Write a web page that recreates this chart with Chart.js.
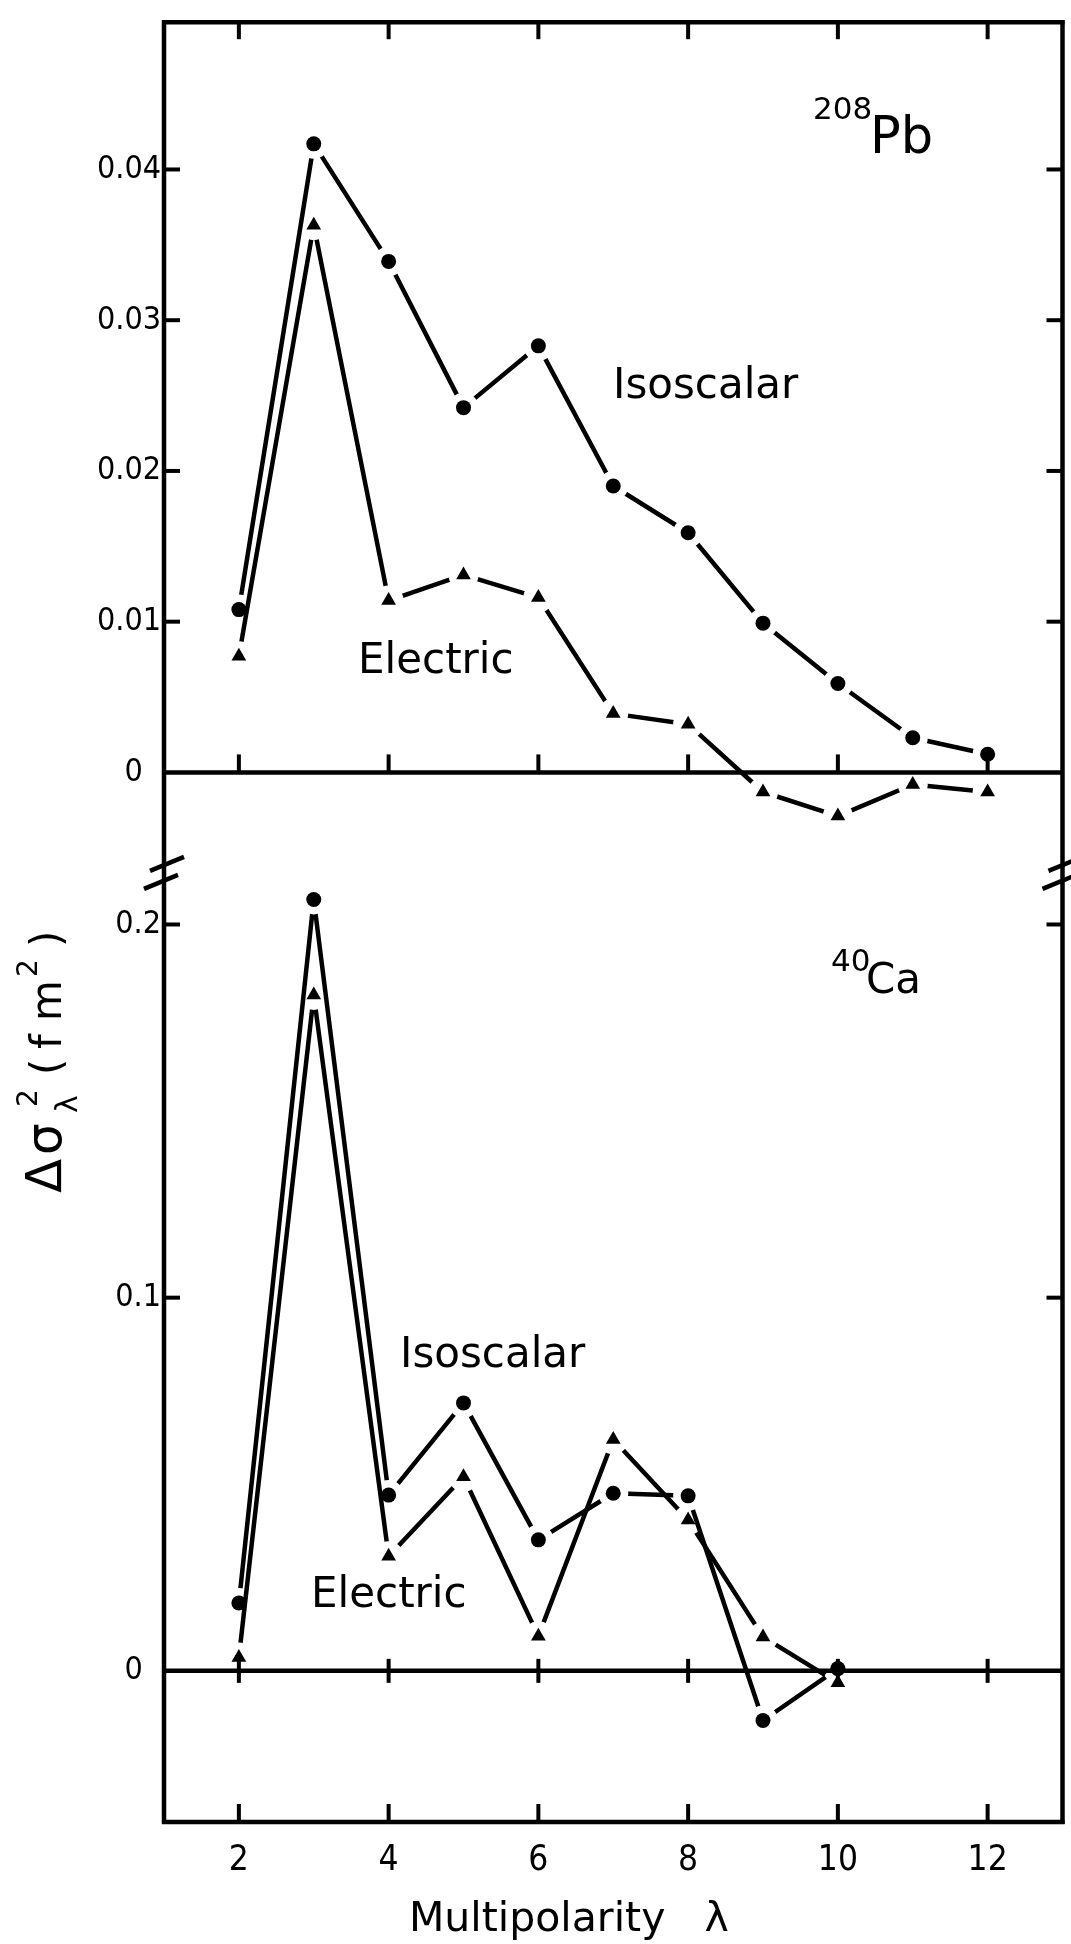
<!DOCTYPE html>
<html><head><meta charset="utf-8">
<script src="https://cdn.jsdelivr.net/npm/chart.js@4.4.1/dist/chart.umd.min.js"></script>
<style>html,body{margin:0;padding:0;background:#fff;}#wrap{position:relative;width:1071px;height:1944px;}canvas{display:block;}</style>
</head><body><div id="wrap"><canvas id="c" width="1071" height="1944"></canvas></div>
<script>
// ---- data ----
const lambdaPb = [2, 3, 4, 5, 6, 7, 8, 9, 10, 11, 12];
const pbIsoscalar = [0.0108, 0.0417, 0.0339, 0.0242, 0.0283, 0.0190, 0.0159, 0.0099, 0.0059, 0.0023, 0.0012];
const pbElectric  = [0.0077, 0.0363, 0.0114, 0.0131, 0.0116, 0.0039, 0.0032, -0.0013, -0.0029, -0.0008, -0.0013];
const lambdaCa = [2, 3, 4, 5, 6, 7, 8, 9, 10];
const caIsoscalar = [0.0182, 0.2067, 0.0471, 0.0718, 0.0351, 0.0476, 0.0469, -0.0133, 0.0006];
const caElectric  = [0.0036, 0.1811, 0.0307, 0.0520, 0.0093, 0.0620, 0.0404, 0.0091, -0.0032];
const xTicks = [2, 4, 6, 8, 10, 12];
const pbTicks = [0, 0.01, 0.02, 0.03, 0.04];
const pbTickLabels = ['0  ', '0.01', '0.02', '0.03', '0.04'];
const caTicks = [0, 0.1, 0.2];
const caTickLabels = ['0  ', '0.1', '0.2'];

// pick a condensed face if one is installed
function hasFont(name) {
  const c = document.createElement('canvas').getContext('2d');
  const s = 'mmmwwwlli0.0412';
  return ['monospace', 'serif'].some(base => {
    c.font = '40px ' + base; const w0 = c.measureText(s).width;
    c.font = '40px "' + name + '",' + base; const w1 = c.measureText(s).width;
    return Math.abs(w1 - w0) > 0.5;
  });
}
const condensed = ['Liberation Sans Narrow', 'Arial Narrow', 'DejaVu Sans Condensed', 'Roboto Condensed', 'Open Sans Condensed', 'Noto Sans Condensed'].find(hasFont);
const NARROW = condensed ? "'" + condensed + "',sans-serif" : "'Liberation Sans',Arial,sans-serif";
const TICK_SIZE = condensed ? 32 : 30;
const SANS = "'DejaVu Sans',sans-serif";
const GAP = 15;

function lineSet(xs, ys, axis) {
  return {
    data: xs.map((x, i) => ({ x: x, y: ys[i] })),
    yAxisID: axis,
    borderColor: '#000',
    borderWidth: 4.5,
    borderJoinStyle: 'bevel',
    borderCapStyle: 'butt',
    pointRadius: 0,
    tension: 0,
    fill: false,
    gapLine: true
  };
}
function markerSet(xs, ys, axis, style, radius) {
  return {
    data: xs.map((x, i) => ({ x: x, y: ys[i] })),
    yAxisID: axis,
    showLine: false,
    pointStyle: style,
    pointRadius: radius,
    pointBackgroundColor: '#000',
    pointBorderWidth: 0,
    fill: false
  };
}

// cut a small gap into each line around its own markers
const gapPlugin = {
  id: 'gaps',
  beforeDatasetDraw(chart, args) {
    const ds = chart.data.datasets[args.index];
    if (!ds.gapLine) return;
    const ctx = chart.ctx;
    ctx.save();
    ctx.beginPath();
    ctx.rect(0, 0, chart.width, chart.height);
    args.meta.data.forEach(p => {
      ctx.moveTo(p.x + GAP, p.y);
      ctx.arc(p.x, p.y, GAP, 0, Math.PI * 2);
    });
    ctx.clip('evenodd');
    ds._clipped = true;
  },
  afterDatasetDraw(chart, args) {
    const ds = chart.data.datasets[args.index];
    if (ds._clipped) { chart.ctx.restore(); ds._clipped = false; }
  }
};

const framePlugin = {
  id: 'frame',
  beforeDatasetsDraw(chart) {
    const ctx = chart.ctx;
    const a = chart.chartArea;
    const sx = chart.scales.x, yp = chart.scales.yPb, yc = chart.scales.yCa;
    const L = a.left, R = a.right, T = a.top, B = a.bottom;
    ctx.save();
    ctx.strokeStyle = '#000';
    ctx.lineCap = 'butt';
    const line = (x1, y1, x2, y2, w) => { ctx.lineWidth = w; ctx.beginPath(); ctx.moveTo(x1, y1); ctx.lineTo(x2, y2); ctx.stroke(); };
    // frame
    line(L, T - 2, L, B + 2, 4.5);
    line(R, T - 2, R, B + 2, 4.5);
    line(L - 2, T, R + 2, T, 4.5);
    line(L - 2, B, R + 2, B, 4.5);
    // zero lines
    const z1 = yp.getPixelForValue(0), z2 = yc.getPixelForValue(0);
    line(L, z1, R, z1, 4.5);
    line(L, z2, R, z2, 4.5);
    // x tick marks
    xTicks.forEach(v => {
      const px = sx.getPixelForValue(v);
      line(px, T, px, T + 17, 4);
      line(px, z1, px, z1 - 18, 4);
      line(px, z2 - 12, px, z2 + 12, 4);
      line(px, B, px, B - 18, 4);
    });
    // y tick marks
    pbTicks.filter(v => v !== 0).forEach(v => {
      const py = yp.getPixelForValue(v);
      line(L, py, L + 16, py, 4);
      line(R, py, R - 16, py, 4);
    });
    caTicks.filter(v => v !== 0).forEach(v => {
      const py = yc.getPixelForValue(v);
      line(L, py, L + 16, py, 4);
      line(R, py, R - 16, py, 4);
    });
    // axis break marks
    const yb = yp.bottom + 5;
    [L, R].forEach(x => {
      line(x - 14, yb - 3, x + 20, yb - 17, 4.5);
      line(x - 20, yb + 15, x + 14, yb + 1, 4.5);
    });
    ctx.restore();
  },
  afterDraw(chart) {
    const ctx = chart.ctx;
    ctx.save();
    ctx.fillStyle = '#000';
    ctx.textAlign = 'left';
    ctx.textBaseline = 'alphabetic';
    ctx.font = '42px ' + SANS;
    ctx.fillText('Isoscalar', 613, 398);
    ctx.fillText('Electric', 358, 673);
    ctx.fillText('Isoscalar', 400, 1367);
    ctx.fillText('Electric', 311, 1607);
    ctx.font = '31px ' + SANS;
    ctx.fillText('208', 813, 119);
    ctx.font = '51px ' + SANS;
    ctx.fillText('Pb', 870, 153);
    ctx.font = '31px ' + SANS;
    ctx.fillText('40', 831, 971);
    ctx.font = '42px ' + SANS;
    ctx.fillText('Ca', 866, 993);
    // x axis title
    ctx.font = '41px ' + SANS;
    ctx.fillText('Multipolarity   \u03bb', 409, 1931);
    // y axis title (rotated)
    ctx.translate(61, 1193);
    ctx.rotate(-Math.PI / 2);
    ctx.font = '50px ' + SANS;
    ctx.fillText('\u0394', 0, 0);
    ctx.fillText('\u03c3', 38, 0);
    ctx.font = '30px ' + SANS;
    ctx.fillText('\u03bb', 80, 16);
    ctx.font = '28px ' + SANS;
    ctx.fillText('2', 86, -24);
    ctx.font = '42px ' + SANS;
    ctx.fillText('(', 118, 0);
    ctx.fillText('f', 144, 0);
    ctx.fillText('m', 172, 0);
    ctx.font = '28px ' + SANS;
    ctx.fillText('2', 216, -24);
    ctx.font = '42px ' + SANS;
    ctx.fillText(')', 246, 0);
    ctx.restore();
  }
};

new Chart(document.getElementById('c'), {
  type: 'line',
  data: {
    datasets: [
      lineSet(lambdaPb, pbIsoscalar, 'yPb'),
      lineSet(lambdaPb, pbElectric, 'yPb'),
      lineSet(lambdaCa, caIsoscalar, 'yCa'),
      lineSet(lambdaCa, caElectric, 'yCa'),
      markerSet(lambdaPb, pbIsoscalar, 'yPb', 'circle', 7.5),
      markerSet(lambdaPb, pbElectric, 'yPb', 'triangle', 8.5),
      markerSet(lambdaCa, caIsoscalar, 'yCa', 'circle', 7.5),
      markerSet(lambdaCa, caElectric, 'yCa', 'triangle', 8.5)
    ]
  },
  options: {
    responsive: false,
    devicePixelRatio: 1,
    animation: false,
    events: [],
    layout: { padding: { top: 13, right: 3, left: 0, bottom: 0 } },
    plugins: { legend: { display: false }, tooltip: { enabled: false } },
    scales: {
      x: {
        type: 'linear', position: 'bottom', min: 1, max: 13,
        grid: { display: false, drawTicks: false },
        border: { display: false },
        afterBuildTicks: s => { s.ticks = xTicks.map(v => ({ value: v })); },
        afterFit: s => { s.height = 122; },
        ticks: { color: '#000', padding: 18, font: { family: NARROW, size: TICK_SIZE + 3 }, maxRotation: 0, autoSkip: false, callback: v => String(v) }
      },
      yCa: {
        type: 'linear', position: 'left', stack: 'panels', stackWeight: 958, weight: 1,
        min: -0.0405, max: 0.2149,
        grid: { display: false, drawTicks: false },
        border: { display: false },
        afterBuildTicks: s => { s.ticks = caTicks.map(v => ({ value: v })); },
        afterFit: s => { s.width = 164; },
        ticks: { color: '#000', padding: 3, font: { family: NARROW, size: TICK_SIZE }, autoSkip: false, callback: (v, i) => caTickLabels[i] }
      },
      yPb: {
        type: 'linear', position: 'left', stack: 'panels', stackWeight: 851, weight: 2,
        min: -0.0064, max: 0.04977,
        grid: { display: false, drawTicks: false },
        border: { display: false },
        afterBuildTicks: s => { s.ticks = pbTicks.map(v => ({ value: v })); },
        afterFit: s => { s.width = 164; },
        ticks: { color: '#000', padding: 3, font: { family: NARROW, size: TICK_SIZE }, autoSkip: false, callback: (v, i) => pbTickLabels[i] }
      }
    }
  },
  plugins: [gapPlugin, framePlugin]
});
</script>
</body></html>
